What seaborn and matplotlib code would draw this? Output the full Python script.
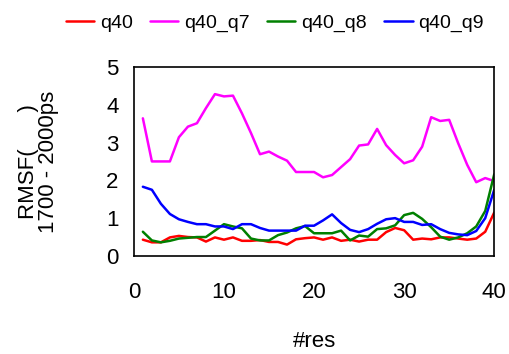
import numpy as np
import pandas as pd
import seaborn as sns
import matplotlib
matplotlib.use("Agg")
import matplotlib.pyplot as plt

res = list(range(1, 41))

q40 = [0.43, 0.36, 0.36, 0.49, 0.53, 0.50, 0.49, 0.38, 0.49, 0.43,
       0.49, 0.40, 0.40, 0.42, 0.37, 0.37, 0.30, 0.44, 0.47, 0.49,
       0.43, 0.49, 0.40, 0.43, 0.38, 0.43, 0.43, 0.63, 0.74, 0.68,
       0.43, 0.46, 0.44, 0.49, 0.49, 0.46, 0.43, 0.46, 0.64, 1.15]
q40_q7 = [3.64, 2.50, 2.50, 2.50, 3.14, 3.42, 3.51, 3.91, 4.28, 4.22,
          4.24, 3.77, 3.25, 2.69, 2.76, 2.63, 2.52, 2.22, 2.22, 2.22,
          2.08, 2.14, 2.35, 2.56, 2.92, 2.95, 3.36, 2.93, 2.67, 2.45,
          2.53, 2.89, 3.67, 3.57, 3.60, 2.98, 2.41, 1.95, 2.06, 1.98]
q40_q8 = [0.64, 0.41, 0.36, 0.40, 0.46, 0.48, 0.50, 0.50, 0.67, 0.84,
          0.78, 0.73, 0.46, 0.41, 0.41, 0.55, 0.62, 0.73, 0.79, 0.60,
          0.60, 0.60, 0.67, 0.41, 0.54, 0.51, 0.71, 0.73, 0.81, 1.08,
          1.14, 0.98, 0.76, 0.51, 0.43, 0.49, 0.60, 0.78, 1.19, 2.16]
q40_q9 = [1.83, 1.75, 1.38, 1.11, 0.97, 0.90, 0.84, 0.84, 0.78, 0.78,
          0.71, 0.84, 0.84, 0.74, 0.67, 0.67, 0.67, 0.67, 0.80, 0.80,
          0.94, 1.10, 0.87, 0.69, 0.63, 0.71, 0.85, 0.97, 1.00, 0.90,
          0.90, 0.82, 0.84, 0.71, 0.61, 0.57, 0.55, 0.66, 1.00, 1.75]

series = {"q40": q40, "q40_q7": q40_q7, "q40_q8": q40_q8, "q40_q9": q40_q9}
colors = {"q40": "red", "q40_q7": "magenta", "q40_q8": "green", "q40_q9": "blue"}

df = pd.concat([pd.DataFrame({"res": res, "rmsf": v, "run": k}) for k, v in series.items()])

sns.set_style("white")
plt.rcParams["font.family"] = ["Liberation Sans", "DejaVu Sans"]
plt.rcParams["text.color"] = "black"
plt.rcParams["axes.labelcolor"] = "black"

fig = plt.figure(figsize=(5.09, 3.54), dpi=100)
ax = fig.add_axes([0.263, 0.277, 0.708, 0.534])

sns.lineplot(data=df, x="res", y="rmsf", hue="run", palette=colors, linewidth=1.8, ax=ax, legend=False)

ax.set_xlim(0, 40)
ax.set_ylim(0, 5)
ax.set_xticks([0, 10, 20, 30, 40])
ax.set_yticks([0, 1, 2, 3, 4, 5])
ax.tick_params(direction="in", length=6, width=1, colors="black", labelsize=16)
ax.tick_params(axis="x", pad=19)
ax.tick_params(axis="y", pad=11)
for s in ax.spines.values():
    s.set_color("black")
    s.set_linewidth(1.2)

ax.set_xlabel("#res", fontsize=16, labelpad=20)
ax.set_ylabel("RMSF(      )\n1700 - 2000ps", fontsize=16, labelpad=34, linespacing=0.95)

handles = [plt.Line2D([0], [0], color=colors[k], lw=1.8) for k in series]
fig.legend(handles, list(series), loc="upper center", bbox_to_anchor=(0.54, 1.01), ncol=4,
           frameon=False, fontsize=14, handlelength=1.45, handletextpad=0.3, columnspacing=0.9)

fig.savefig("out.png", dpi=100)
